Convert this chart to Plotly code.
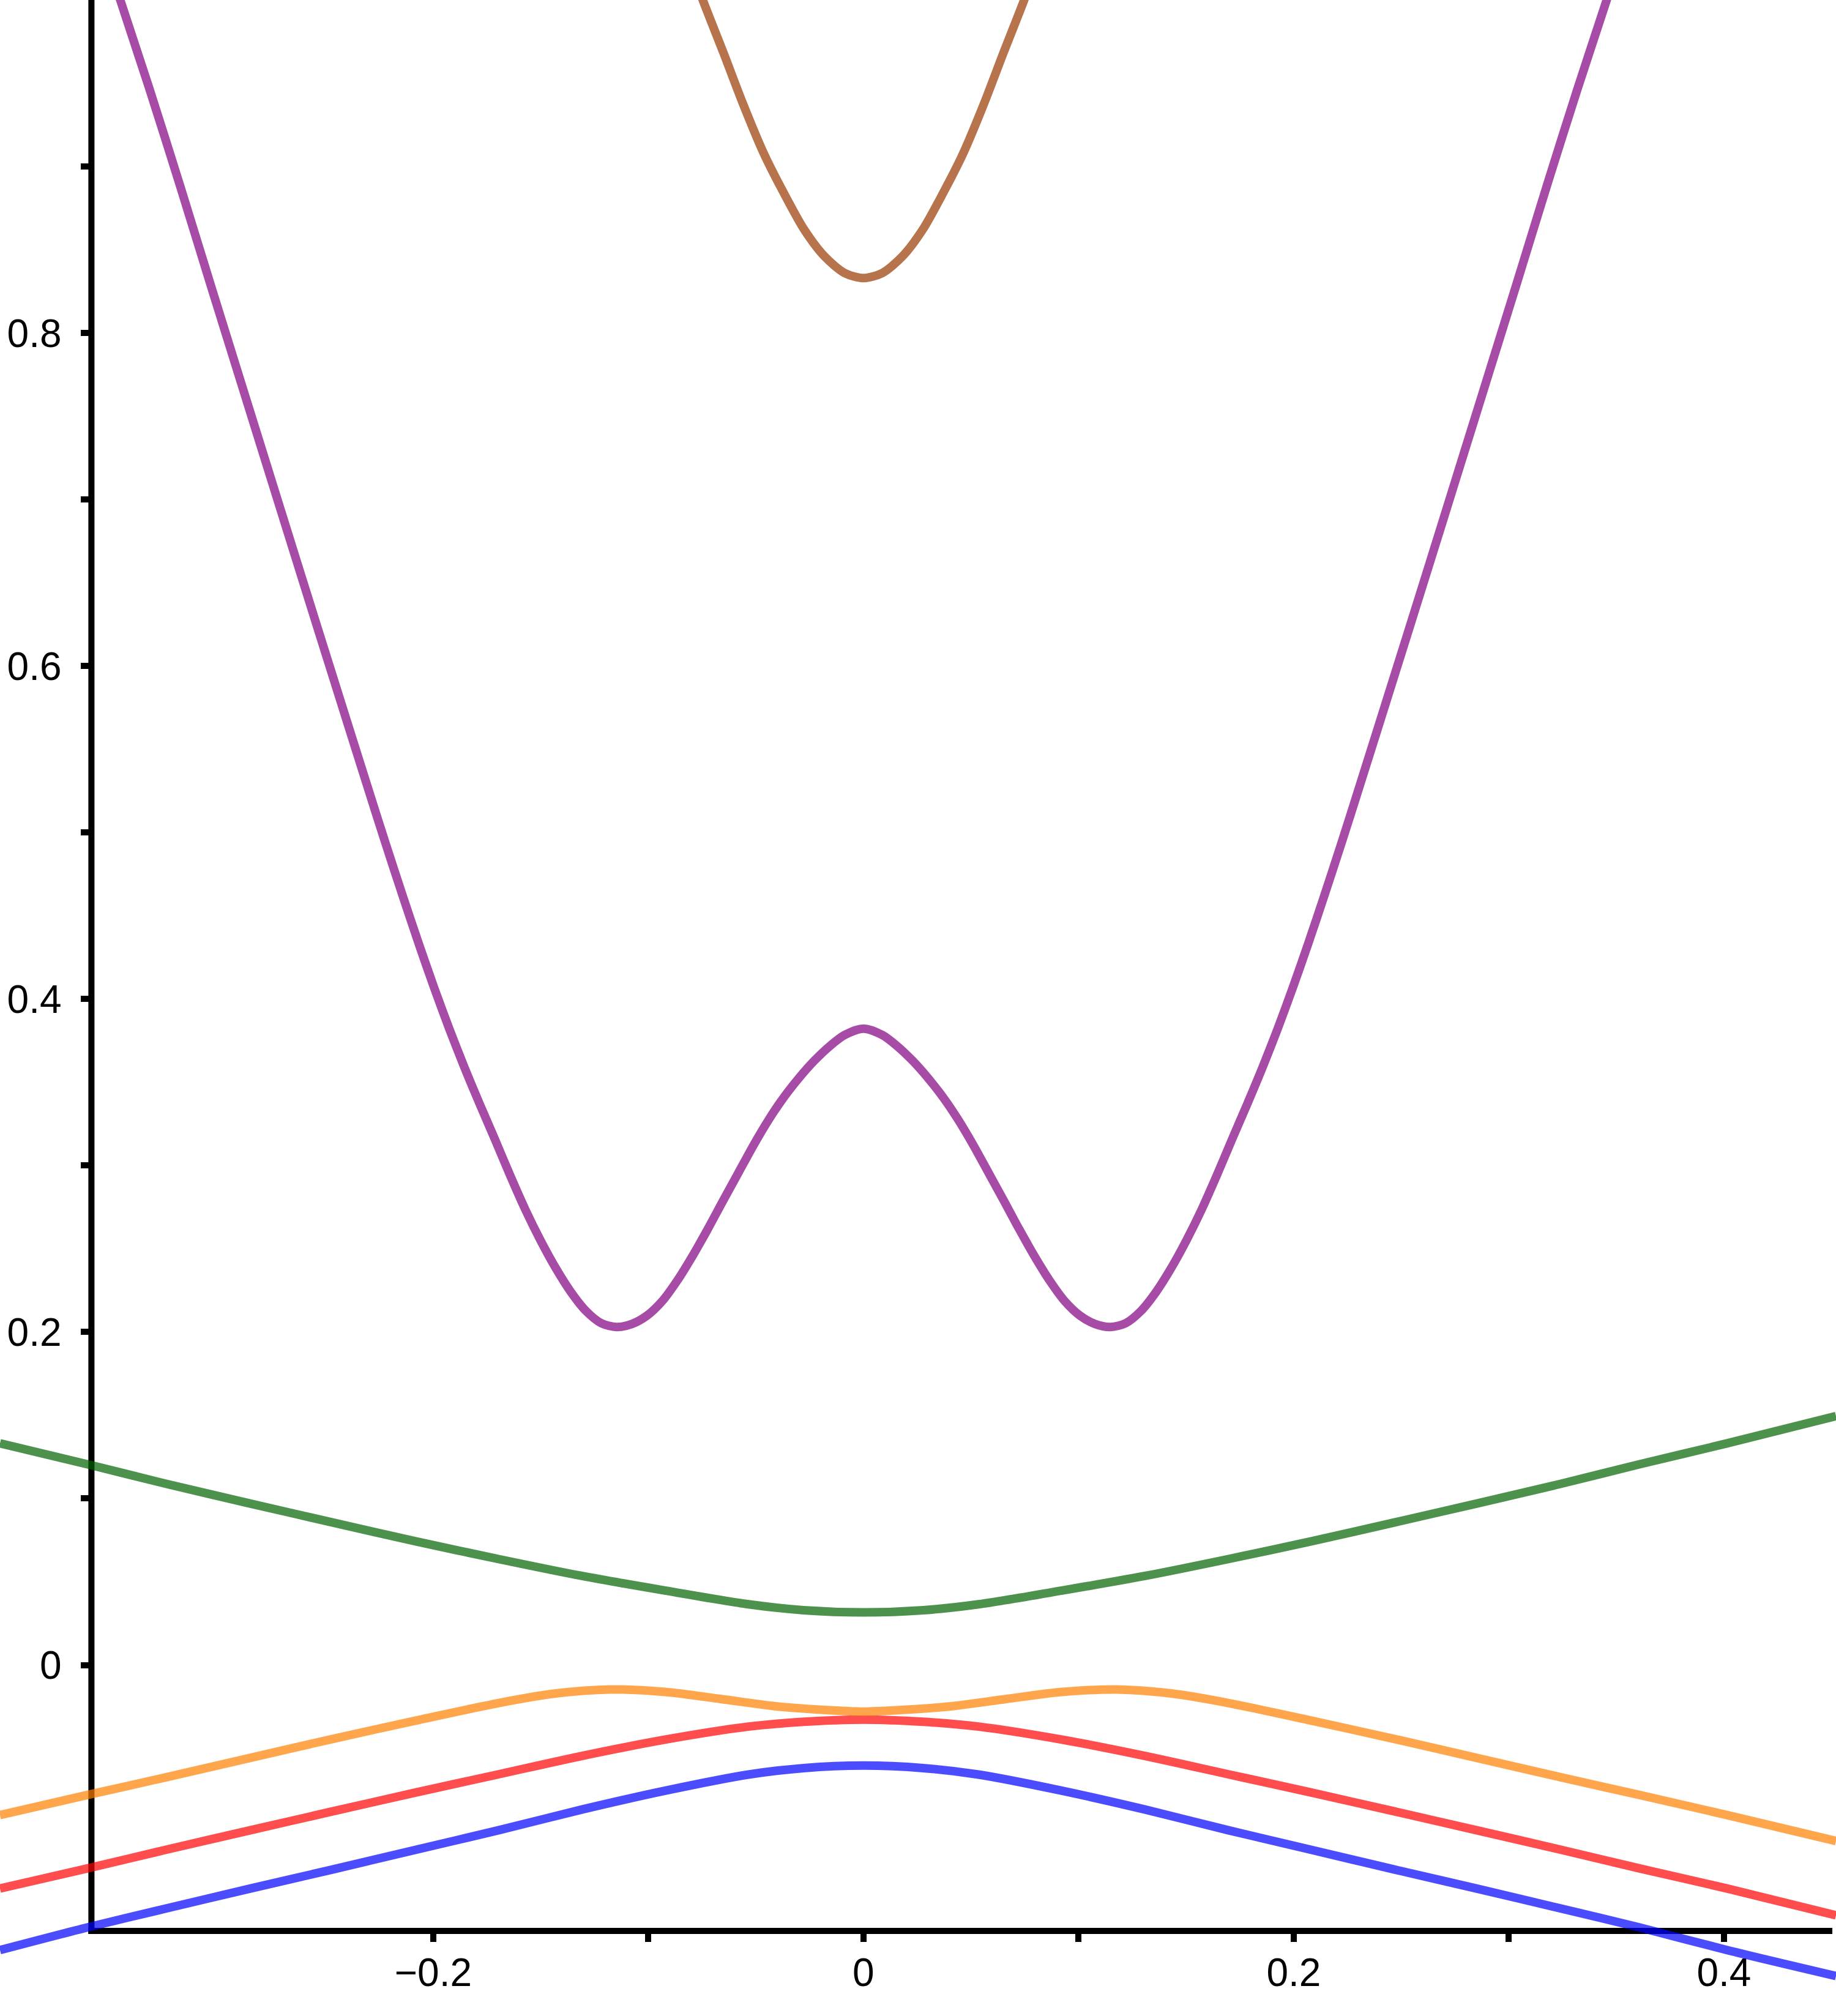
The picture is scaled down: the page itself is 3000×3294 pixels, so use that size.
import plotly.graph_objects as go

# ---------------- data ----------------
# lower bands share one k grid
k_low = [-0.4014, -0.3602, -0.3241, -0.2855, -0.2468, -0.2082, -0.1695, -0.1309, -0.0922, -0.0535, -0.0278, 0.0,
         0.0278, 0.0535, 0.0922, 0.1309, 0.1695, 0.2082, 0.2468, 0.2855, 0.3241, 0.3602, 0.4014, 0.4521]

# band 1 (blue)
blue = [-0.1712, -0.1574, -0.1462, -0.1344, -0.1228, -0.1110, -0.0992, -0.0868, -0.0755, -0.0658, -0.0619, -0.0604,
        -0.0619, -0.0658, -0.0755, -0.0868, -0.0992, -0.1110, -0.1228, -0.1344, -0.1462, -0.1574, -0.1712, -0.1868]

# band 2 (red)
red = [-0.1342, -0.1220, -0.1109, -0.0994, -0.0879, -0.0766, -0.0656, -0.0546, -0.0448, -0.0370, -0.0341, -0.0328,
       -0.0341, -0.0370, -0.0448, -0.0546, -0.0656, -0.0766, -0.0879, -0.0994, -0.1109, -0.1220, -0.1342, -0.1503]

# band 4 (green)
green = [0.1331, 0.1204, 0.1088, 0.0971, 0.0856, 0.0743, 0.0636, 0.0535, 0.0447, 0.0365, 0.0329, 0.0316,
         0.0329, 0.0365, 0.0447, 0.0535, 0.0636, 0.0743, 0.0856, 0.0971, 0.1088, 0.1204, 0.1331, 0.1495]

# band 3 (orange) - finer grid around its two maxima
k_orange = [-0.4014, -0.3602, -0.3241, -0.2855, -0.2468, -0.2082, -0.1695, -0.1437, -0.1180, -0.0922, -0.0664,
            -0.0407, -0.0149, 0.0, 0.0149, 0.0407, 0.0664, 0.0922, 0.1180, 0.1437, 0.1695, 0.2082, 0.2468,
            0.2855, 0.3241, 0.3602, 0.4014, 0.4521]
orange = [-0.0901, -0.0779, -0.0674, -0.0559, -0.0444, -0.0334, -0.0228, -0.0172, -0.0147, -0.0162, -0.0204,
          -0.0248, -0.0272, -0.0280, -0.0272, -0.0248, -0.0204, -0.0162, -0.0147, -0.0172, -0.0228, -0.0334, -0.0444,
          -0.0559, -0.0674, -0.0779, -0.0901, -0.1057]

# band 5 (purple, W shape)
k_purple = [-0.3500, -0.3455, -0.3319, -0.3177, -0.3036, -0.2893, -0.2751, -0.2611, -0.2469, -0.2292,
            -0.2222, -0.2139, -0.2068, -0.1997, -0.1926, -0.1855, -0.1785, -0.1714, -0.1644, -0.1573,
            -0.1502, -0.1431, -0.1360, -0.1289, -0.1219, -0.1148, -0.1077, -0.1007, -0.0936, -0.0865,
            -0.0794, -0.0723, -0.0653, -0.0582, -0.0511, -0.0440, -0.0370, -0.0299, -0.0228, -0.0156,
            -0.0087, 0.0,
            0.0087, 0.0156, 0.0228, 0.0299, 0.0370, 0.0440, 0.0511, 0.0582, 0.0653, 0.0723,
            0.0794, 0.0865, 0.0936, 0.1007, 0.1077, 0.1148, 0.1219, 0.1289, 0.1360, 0.1431,
            0.1502, 0.1573, 0.1644, 0.1714, 0.1785, 0.1855, 0.1926, 0.1997, 0.2068, 0.2139,
            0.2222, 0.2292, 0.2469, 0.2611, 0.2751, 0.2893, 0.3036, 0.3177, 0.3319, 0.3455, 0.3500]
purple = [1.0185, 1.0000, 0.9465, 0.8885, 0.8294, 0.7700, 0.7111, 0.6531, 0.5946, 0.5220,
          0.4936, 0.4608, 0.4335, 0.4072, 0.3823, 0.3589, 0.3372, 0.3159, 0.2945, 0.2738,
          0.2552, 0.2385, 0.2240, 0.2125, 0.2053, 0.2030, 0.2048, 0.2098, 0.2185, 0.2310,
          0.2458, 0.2620, 0.2788, 0.2955, 0.3122, 0.3276, 0.3410, 0.3527, 0.3630, 0.3718,
          0.3784, 0.3822,
          0.3784, 0.3718, 0.3630, 0.3527, 0.3410, 0.3276, 0.3122, 0.2955, 0.2788, 0.2620,
          0.2458, 0.2310, 0.2185, 0.2098, 0.2048, 0.2030, 0.2053, 0.2125, 0.2240, 0.2385,
          0.2552, 0.2738, 0.2945, 0.3159, 0.3372, 0.3589, 0.3823, 0.4072, 0.4335, 0.4608,
          0.4936, 0.5220, 0.5946, 0.6531, 0.7111, 0.7700, 0.8294, 0.8885, 0.9465, 1.0000, 1.0185]

# band 6 (brown, top)
k_brown = [-0.0780, -0.0747, -0.0653, -0.0558, -0.0464, -0.0370, -0.0275, -0.0181, -0.0087, 0.0,
           0.0087, 0.0181, 0.0275, 0.0370, 0.0464, 0.0558, 0.0653, 0.0747, 0.0780]
brown = [1.012, 1.000, 0.969, 0.937, 0.908, 0.884, 0.862, 0.846, 0.836, 0.833,
         0.836, 0.846, 0.862, 0.884, 0.908, 0.937, 0.969, 1.000, 1.012]

# ticks
x_tickvals = [-0.2, -0.1, 0.0, 0.1, 0.2, 0.3, 0.4]
x_ticktext = ["\u22120.2", "", "0", "", "0.2", "", "0.4"]
y_tickvals = [0.0, 0.1, 0.2, 0.3, 0.4, 0.5, 0.6, 0.7, 0.8, 0.9]
y_ticktext = ["0", "", "0.2", "", "0.4", "", "0.6", "", "0.8", ""]

# ---------------- layout constants ----------------
W, H = 3000, 3294
X_RANGE = [-0.4014, 0.4521]
Y_RANGE = [-0.2108, 1.0]
X_CROSS = -0.3589   # where the vertical axis sits
Y_CROSS = -0.1597   # where the horizontal axis sits
X_AXIS_END = 0.4504

series = [
    (k_low, blue, "rgba(0,0,255,0.7)"),
    (k_low, red, "rgba(255,0,0,0.7)"),
    (k_orange, orange, "rgba(255,128,0,0.7)"),
    (k_low, green, "rgba(0,98,0,0.7)"),
    (k_purple, purple, "rgba(128,0,128,0.7)"),
    (k_brown, brown, "rgba(153,56,0,0.7)"),
]

fig = go.Figure()
for xs, ys, col in series:
    fig.add_trace(go.Scatter(x=xs, y=ys, mode="lines",
                             line=dict(color=col, width=14, shape="spline", smoothing=0.8),
                             showlegend=False, hoverinfo="skip"))

xpos = (Y_CROSS - Y_RANGE[0]) / (Y_RANGE[1] - Y_RANGE[0])
ypos = (X_CROSS - X_RANGE[0]) / (X_RANGE[1] - X_RANGE[0])

tickfont = dict(family="Liberation Sans, Arial, sans-serif", size=64, color="black")

fig.update_layout(
    width=W, height=H,
    margin=dict(l=0, r=0, t=0, b=0, pad=0),
    paper_bgcolor="white", plot_bgcolor="white",
    showlegend=False,
    xaxis=dict(range=X_RANGE, domain=[0, 1], anchor="free", position=xpos,
               showgrid=False, zeroline=False, showline=False,
               ticks="outside", ticklen=17, tickwidth=10, tickcolor="black",
               tickvals=x_tickvals, ticktext=x_ticktext, tickfont=tickfont,
               ticklabelstandoff=-5, layer="below traces", fixedrange=True),
    yaxis=dict(range=Y_RANGE, domain=[0, 1], anchor="free", position=ypos,
               showgrid=False, zeroline=False, showline=False,
               ticks="outside", ticklen=17, tickwidth=10, tickcolor="black",
               tickvals=y_tickvals, ticktext=y_ticktext, tickfont=tickfont,
               ticklabelstandoff=19, layer="below traces", fixedrange=True),
)

# axis lines (axes crossing at the plot origin)
px_x = (X_RANGE[1] - X_RANGE[0]) / W
px_y = (Y_RANGE[1] - Y_RANGE[0]) / H
fig.add_shape(type="line", xref="x", yref="y", layer="below",
              x0=X_CROSS - 5 * px_x, x1=X_AXIS_END, y0=Y_CROSS, y1=Y_CROSS,
              line=dict(color="black", width=10))
fig.add_shape(type="line", xref="x", yref="y", layer="below",
              x0=X_CROSS, x1=X_CROSS, y0=Y_CROSS - 5 * px_y, y1=Y_RANGE[1] + 0.01,
              line=dict(color="black", width=10))

fig.write_html("out.html", config={"displayModeBar": False, "staticPlot": True},
               post_script="document.body.style.margin='0';document.body.style.overflow='hidden';")
